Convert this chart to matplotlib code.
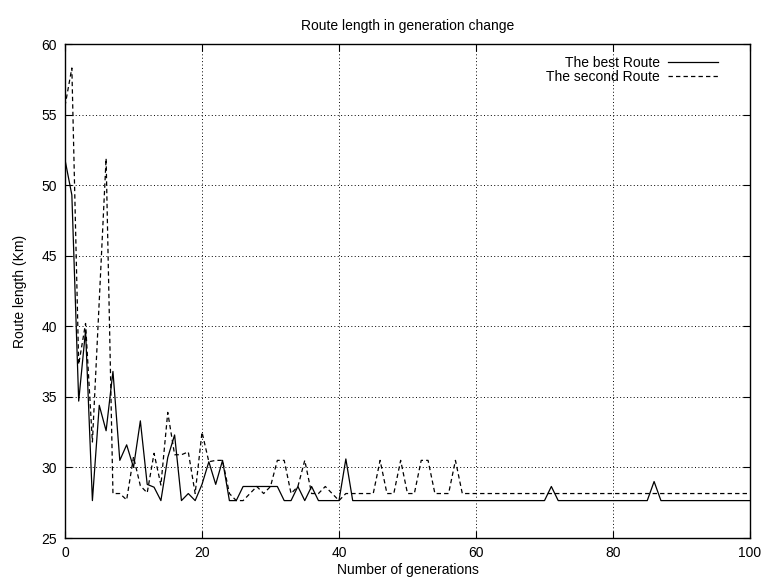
import matplotlib
matplotlib.use("Agg")
import matplotlib.pyplot as plt

generations = list(range(0, 101))

best_route = [
    51.8, 49.3, 34.7, 39.7, 27.65, 34.4, 32.6, 36.8, 30.5, 31.6,
    30.0, 33.3, 28.8, 28.6, 27.65, 30.7, 32.3, 27.65, 28.15, 27.65,
    28.8, 30.4, 28.8, 30.5, 27.65, 27.65, 28.65, 28.65, 28.65, 28.65,
    28.65, 28.65, 27.65, 27.65, 28.65, 27.65, 28.65, 27.65, 27.65, 27.65,
    27.65, 30.6, 27.65, 27.65, 27.65, 27.65, 27.65, 27.65, 27.65, 27.65,
    27.65, 27.65, 27.65, 27.65, 27.65, 27.65, 27.65, 27.65, 27.65, 27.65,
    27.65, 27.65, 27.65, 27.65, 27.65, 27.65, 27.65, 27.65, 27.65, 27.65,
    27.65, 28.65, 27.65, 27.65, 27.65, 27.65, 27.65, 27.65, 27.65, 27.65,
    27.65, 27.65, 27.65, 27.65, 27.65, 27.65, 29.0, 27.65, 27.65, 27.65,
    27.65, 27.65, 27.65, 27.65, 27.65, 27.65, 27.65, 27.65, 27.65, 27.65,
    27.65,
]

second_route = [
    55.6, 58.3, 37.3, 40.2, 31.8, 41.8, 51.9, 28.15, 28.15, 27.7,
    30.75, 28.7, 28.2, 31.0, 28.75, 33.9, 30.9, 30.9, 31.1, 28.15,
    32.5, 30.4, 30.5, 30.5, 28.15, 27.65, 27.65, 28.15, 28.65, 28.15,
    28.65, 30.5, 30.5, 28.15, 28.65, 30.5, 28.15, 28.15, 28.65, 28.15,
    27.65, 28.15, 28.15, 28.15, 28.15, 28.15, 30.5, 28.15, 28.15, 30.5,
    28.15, 28.15, 30.5, 30.5, 28.15, 28.15, 28.15, 30.5, 28.15, 28.15,
    28.15, 28.15, 28.15, 28.15, 28.15, 28.15, 28.15, 28.15, 28.15, 28.15,
    28.15, 28.15, 28.15, 28.15, 28.15, 28.15, 28.15, 28.15, 28.15, 28.15,
    28.15, 28.15, 28.15, 28.15, 28.15, 28.15, 28.15, 28.15, 28.15, 28.15,
    28.15, 28.15, 28.15, 28.15, 28.15, 28.15, 28.15, 28.15, 28.15, 28.15,
    28.15,
]

x_ticks = [0, 20, 40, 60, 80, 100]
y_ticks = [25, 30, 35, 40, 45, 50, 55, 60]

plt.rcParams['font.family'] = ['Liberation Sans', 'DejaVu Sans']
plt.rcParams['font.size'] = 10

fig = plt.figure(figsize=(7.66, 5.87), dpi=100)
ax = fig.add_axes([65/766, 1 - 538/587, (750-65)/766, (538-44)/587])

ax.plot(generations, best_route, color='black', lw=0.9, label='The best Route')
ax.plot(generations, second_route, color='black', lw=0.9, ls=(0, (3.5, 2.5)),
        label='The second Route')

ax.set_xlim(0, 100)
ax.set_ylim(25, 60)
ax.set_xticks(x_ticks)
ax.set_yticks(y_ticks)
ax.tick_params(direction='in', top=True, right=True, length=5, width=0.8,
               labelsize=10, pad=6)
ax.grid(True, color='black', ls=(0, (1, 2.5)), lw=0.7)
for s in ax.spines.values():
    s.set_linewidth(1.0)

ax.set_title('Route length in generation change', fontsize=10, pad=10)
ax.set_xlabel('Number of generations', fontsize=10, labelpad=2)
ax.set_ylabel('Route length (Km)', fontsize=10, labelpad=10)

ax.legend(loc='upper right', bbox_to_anchor=(0.968, 0.996), frameon=False,
          markerfirst=False, handlelength=3.6, fontsize=10, borderaxespad=0.3,
          labelspacing=0.0, handletextpad=0.6)

fig.savefig('out.png', dpi=100)
